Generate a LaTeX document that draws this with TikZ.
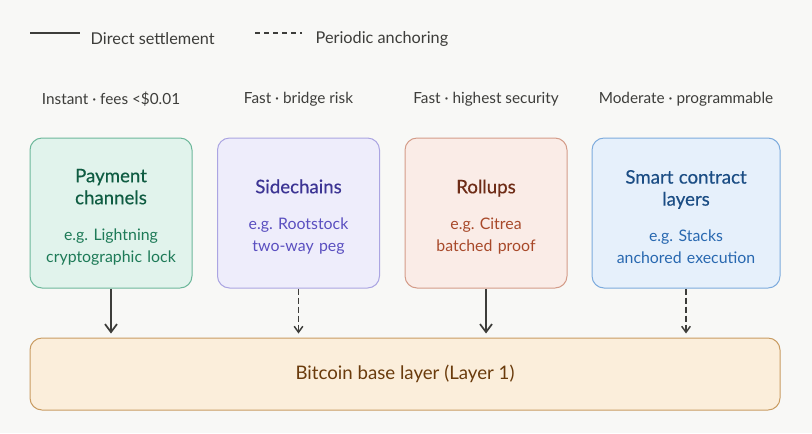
\documentclass[tikz,border=0pt]{standalone}
\usepackage{fontspec}
\setmainfont{Lato}
\newfontfamily\titlefont[FakeBold=0.35]{Lato}
\usetikzlibrary{arrows.meta}
\definecolor{bg}{HTML}{F8F8F6}
\definecolor{ink}{HTML}{3D3D3A}
\definecolor{gfill}{HTML}{E1F3EC}
\definecolor{gline}{HTML}{6DB89B}
\definecolor{gtitle}{HTML}{0F5C42}
\definecolor{gsub}{HTML}{1D7A57}
\definecolor{pfill}{HTML}{EEEDFB}
\definecolor{pline}{HTML}{ABA5E2}
\definecolor{ptitle}{HTML}{3C3494}
\definecolor{psub}{HTML}{5A4FC0}
\definecolor{rfill}{HTML}{FAECE7}
\definecolor{rline}{HTML}{D49C89}
\definecolor{rtitle}{HTML}{6E2C17}
\definecolor{rsub}{HTML}{A8492A}
\definecolor{bfill}{HTML}{E6F0FB}
\definecolor{bline}{HTML}{7DABDD}
\definecolor{btitle}{HTML}{1B4D84}
\definecolor{bsub}{HTML}{2868B0}
\definecolor{ofill}{HTML}{FBEEDB}
\definecolor{oline}{HTML}{C99C62}
\definecolor{otext}{HTML}{6A3B0C}
\tikzset{
  box/.style={draw, rounded corners=9pt, line width=0.75pt, minimum width=121.5pt,
    minimum height=112.5pt, inner sep=0pt, align=center, text width=110pt,
    font=\frenchspacing\fontsize{12}{16.5}\selectfont},
  lbl/.style={text=ink, font=\fontsize{11.5}{13}\selectfont},
  leg/.style={text=ink, font=\fontsize{12.2}{14}\selectfont},
  solidarr/.style={draw=ink, line width=1.5pt, -{Straight Barb[length=6pt,width=9pt,line width=1.3pt]}},
  dasharr/.style={draw=ink, line width=1.2pt, dash pattern=on 4.5pt off 2.25pt,
    -{Straight Barb[length=4.5pt,width=6.5pt,line width=1.1pt]}},
}
\newcommand{\boxtext}[4]{{\titlefont\fontsize{14}{16.5}\selectfont\color{#1}\rule{0pt}{16pt}#2}\\[10.5pt]{\fontsize{11.9}{16.5}\selectfont\color{#3}#4}}
\begin{document}
\begin{tikzpicture}[x=0.75pt,y=-0.75pt]
\fill[bg] (0,0) rectangle (812,433);
\useasboundingbox (0,0) rectangle (812,433);
% legend
\coordinate (l1a) at (30,33);
\coordinate (l1b) at (80,33);
\draw[ink, line width=1.6pt] (l1a) -- (l1b);
\node[leg, anchor=west] (l1t) at (86,39) {Direct settlement};
\coordinate (l2a) at (255,33);
\coordinate (l2b) at (302,33);
\draw[ink, line width=1.1pt, dash pattern=on 3.75pt off 3pt] (l2a) -- (l2b);
\node[leg, anchor=west] (l2t) at (311,39) {Periodic anchoring};
% top labels
\node[lbl] (t1) at (111,99) {Instant · fees <\$0.01};
\node[lbl] (t2) at (298.5,99) {Fast · bridge risk};
\node[lbl] (t3) at (486,99) {Fast · highest security};
\node[lbl] (t4) at (686,99) {Moderate · programmable};
% boxes
\node[box, draw=gline, fill=gfill] (pay) at (111,213) {\boxtext{gtitle}{Payment\\channels}{gsub}{e.g. Lightning\\cryptographic lock}};
\node[box, draw=pline, fill=pfill] (side) at (298.5,213) {\boxtext{ptitle}{Sidechains}{psub}{e.g. Rootstock\\two-way peg}};
\node[box, draw=rline, fill=rfill] (roll) at (486,213) {\boxtext{rtitle}{Rollups}{rsub}{e.g. Citrea\\batched proof}};
\node[box, draw=bline, fill=bfill, minimum width=141pt] (smart) at (686,213) {\boxtext{btitle}{Smart contract\\layers}{bsub}{e.g. Stacks\\anchored execution}};
% base
\node[draw=oline, fill=ofill, rounded corners=9pt, line width=0.75pt, minimum width=562.5pt, minimum height=54pt, inner sep=0pt, text=otext, font=\fontsize{14}{16}\selectfont] (base) at (405,374) {Bitcoin base layer (Layer 1)};
% arrows
\draw[solidarr, shorten >=3pt] (pay.south) -- (pay.south |- base.north);
\draw[dasharr, shorten >=3pt] (side.south) -- (side.south |- base.north);
\draw[solidarr, shorten >=3pt] (roll.south) -- (roll.south |- base.north);
\draw[dasharr, shorten >=3pt] (smart.south) -- (smart.south |- base.north);
\end{tikzpicture}
\end{document}
